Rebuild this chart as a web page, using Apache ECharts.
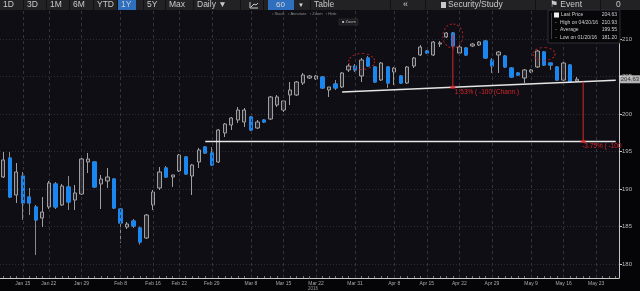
<!DOCTYPE html>
<html><head><meta charset="utf-8">
<script src="https://cdn.jsdelivr.net/npm/echarts@6/dist/echarts.min.js"></script>
<style>html,body{margin:0;padding:0;background:#050507;overflow:hidden}#c{width:640px;height:291px}</style>
</head><body><div id="c"></div>
<script>
// ---------- data ----------
const dates = ['01-12','01-13','01-14','01-15','01-19','01-20','01-21','01-22','01-25','01-26','01-27','01-28','01-29',
'02-01','02-02','02-03','02-04','02-05','02-08','02-09','02-10','02-11','02-12','02-16','02-17','02-18','02-19','02-22','02-23','02-24','02-25','02-26','02-29',
'03-01','03-02','03-03','03-04','03-07','03-08','03-09','03-10','03-11','03-14','03-15','03-16','03-17','03-18','03-21','03-22','03-23','03-24','03-28','03-29','03-30','03-31',
'04-01','04-04','04-05','04-06','04-07','04-08','04-11','04-12','04-13','04-14','04-15','04-18','04-19','04-20','04-21','04-22','04-25','04-26','04-27','04-28','04-29',
'05-02','05-03','05-04','05-05','05-06','05-09','05-10','05-11','05-12','05-13','05-16','05-17','05-18',
'05-19','05-20','05-23','05-24','05-25','05-26'];
const open  = [191.60,194.13,189.20,191.73,188.93,187.60,186.13,187.60,190.67,187.87,190.27,188.53,189.33,193.60,193.60,190.67,191.07,191.33,187.33,184.93,185.73,184.80,183.47,187.87,190.13,192.80,191.60,192.40,194.27,191.73,193.60,195.60,194.80,193.60,197.47,198.53,199.20,198.93,199.60,198.13,199.20,199.33,201.20,200.53,202.53,202.53,204.13,204.80,204.67,204.93,203.20,204.00,203.60,205.87,206.40,205.07,207.47,206.27,204.53,206.27,205.60,205.07,204.13,206.40,207.87,208.40,207.87,209.33,210.27,210.80,208.13,208.80,209.07,209.20,209.73,207.20,207.87,207.73,206.13,205.47,204.80,205.60,206.27,208.27,206.80,206.27,204.53,206.53,204.40];
const high  = [194.93,194.93,193.47,192.27,190.13,187.87,188.93,191.07,190.93,190.67,191.73,190.53,194.13,194.80,193.73,191.87,192.80,191.47,187.47,185.60,186.00,185.00,186.67,189.87,192.93,193.07,191.90,194.67,194.40,193.33,195.47,195.73,195.60,198.00,198.80,199.60,200.93,200.80,199.73,199.20,199.33,202.40,202.53,201.73,204.27,204.40,205.47,205.20,205.20,205.07,203.60,204.53,205.60,206.67,206.67,207.47,207.73,206.40,206.93,206.40,206.27,205.20,206.40,207.60,209.20,208.53,209.73,209.73,210.93,210.93,209.20,208.93,209.47,209.73,209.87,207.47,208.40,207.87,206.27,205.60,206.00,206.00,208.53,208.40,206.80,206.40,206.93,206.67,204.93];
const low   = [191.47,188.80,188.13,185.87,186.53,181.20,184.93,187.33,187.33,187.73,187.20,187.20,189.20,192.13,190.13,187.33,190.13,187.33,182.80,184.67,184.80,182.60,183.33,187.20,189.87,191.47,190.27,192.27,191.87,189.20,192.80,194.67,193.07,193.47,196.93,197.87,198.80,198.27,197.73,198.00,198.80,199.20,200.93,200.27,201.20,202.40,203.87,204.67,204.53,203.33,202.27,203.20,203.47,205.60,205.60,204.27,206.27,204.13,204.40,203.47,203.87,204.00,204.00,206.13,207.73,208.00,207.73,208.93,210.13,208.80,207.87,207.73,208.93,209.07,207.33,205.47,205.47,206.13,204.80,205.07,204.13,205.47,206.13,206.40,205.87,204.40,204.40,204.13,204.27];
const close = [193.87,188.93,192.27,188.13,188.13,185.87,186.93,190.80,187.60,190.40,188.27,189.47,194.00,194.00,190.27,191.33,191.60,187.47,185.47,185.33,185.07,182.93,186.53,189.60,192.27,191.60,191.87,194.53,192.00,193.20,195.20,194.80,193.20,197.87,198.67,199.47,200.53,200.53,197.87,198.93,198.93,202.27,202.27,201.73,203.20,204.27,205.20,205.07,205.07,203.47,203.60,203.47,205.47,206.40,205.87,207.20,206.40,204.27,206.80,204.13,206.13,204.13,206.27,207.47,208.93,208.13,209.60,209.47,210.80,209.07,208.93,207.87,209.33,209.60,207.47,206.40,208.27,206.27,204.93,205.20,205.87,205.87,208.40,206.53,206.53,204.53,206.80,204.27,204.63];
const labelDates = ['01-15','01-22','01-29','02-08','02-16','02-22','02-29','03-08','03-15','03-22','03-31','04-08','04-15','04-22','04-29','05-09','05-16','05-23'];
const yTicks = [180,185,190,195,200,205,210];
// annotations (data space: [category index, price])
const trendLine   = [[52, 202.93],[94, 204.50]];
const supportLine = [[31, 196.33],[94, 196.33]];
const moveIdx  = [69, 89];
const moveText = ['1.53% ( -100 (Chann.)', '-3.75% ( -100'];
const circleAnn = [[55, 207.0],[69, 210.4],[83, 208.0]];
const toolbarItems = ['1D','3D','1M','6M','YTD','1Y','5Y','Max','Daily \u25BC'];

// ---------- helpers ----------
const MONTHS = ['Jan','Feb','Mar','Apr','May','Jun','Jul','Aug','Sep','Oct','Nov','Dec'];
const fmtDate = d => { const [m, dd] = d.split('-'); return MONTHS[+m - 1] + ' ' + (+dd); };
const slash = d => { const [m, dd] = d.split('-'); return m + '/' + dd + '/16'; };
const trendAt = i => { const [[x0,y0],[x1,y1]] = trendLine; return y0 + (y1 - y0) * (i - x0) / (x1 - x0); };
const n = close.length;
const candleData = dates.map((d,i) => i < n ? [open[i], close[i], low[i], high[i]] : '-');
const downBodies = dates.map((d,i) => (i < n && close[i] < open[i]) ? [open[i], close[i], close[i], open[i]] : '-');
const moveTop = [210.6, trendAt(moveIdx[1])];
const moveBot = [trendAt(moveIdx[0]), supportLine[0][1]];
const circleSizes = [[26,16],[20,24],[22,13]];
const RED = '#d8262a';
const FONT = '"Liberation Sans", Arial, sans-serif';

const chart = echarts.init(document.getElementById('c'));
const option = {
  animation: false,
  backgroundColor: '#050507',
  grid: { left: -2, right: 21, top: 10, bottom: 13, show: true, backgroundColor: '#0e0e14', borderWidth: 0 },
  xAxis: {
    type: 'category', data: dates, boundaryGap: true,
    axisLine: { show: true, lineStyle: { color: '#c8c8c8', width: 1 } },
    axisTick: { show: true, inside: true, length: 2, alignWithLabel: true, interval: 0, lineStyle: { color: '#777' } },
    axisLabel: { interval: (i, v) => labelDates.includes(v), formatter: fmtDate, color: '#aaa', fontSize: 5, margin: 3, fontFamily: FONT },
    splitLine: { show: false }
  },
  yAxis: {
    type: 'value', position: 'right', min: 178.1333, max: 213.8667, scale: true,
    axisLine: { show: true, lineStyle: { color: '#c8c8c8', width: 1 } },
    axisTick: { show: true, length: 3, customValues: yTicks, lineStyle: { color: '#c8c8c8' } },
    axisLabel: { customValues: yTicks, color: '#bbb', fontSize: 6, margin: 3, fontFamily: FONT },
    splitLine: { show: true, lineStyle: { color: '#2c2c34', type: [1, 2], width: 1 } }
  },
  series: [
    { // vertical dashed grid lines at labelled dates
      type: 'line', data: [], z: 1, silent: true,
      markLine: { silent: true, symbol: 'none', label: { show: false },
        lineStyle: { color: '#34343e', type: [3, 3], width: 1 },
        data: labelDates.map(d => ({ xAxis: d })) }
    },
    {
      type: 'candlestick', data: candleData, barWidth: '58%', z: 3,
      itemStyle: { color: '#28282e', color0: '#1a86f0', borderColor: '#a0a0a0', borderColor0: '#8a8a8a', borderWidth: 1 }
    },
    {
      type: 'candlestick', data: downBodies, barWidth: '58%', z: 4,
      itemStyle: { color: '#1a86f0', color0: '#1a86f0', borderColor: '#1a86f0', borderColor0: '#1a86f0', borderWidth: 1 }
    },
    { type: 'line', data: trendLine, symbol: 'none', z: 5, lineStyle: { color: '#e6e6e6', width: 1.5 } },
    { type: 'line', data: supportLine, symbol: 'none', z: 5, lineStyle: { color: '#e6e6e6', width: 1.5 } },
    ...moveIdx.map((ix, k) => ({
      type: 'line', data: [[ix, moveTop[k]], [ix, moveBot[k]]], symbol: 'none', z: 6,
      lineStyle: { color: RED, width: 1 }
    })),
    {
      type: 'scatter', z: 7, symbol: 'rect', symbolSize: [5, 3],
      itemStyle: { color: RED },
      data: moveIdx.map((ix, k) => [ix, moveBot[k]])
    },
    {
      type: 'scatter', z: 7, symbol: 'circle',
      symbolSize: (v, p) => circleSizes[p.dataIndex],
      itemStyle: { color: 'rgba(0,0,0,0)', borderColor: RED, borderWidth: 1, borderType: [2, 2] },
      data: circleAnn
    },
    {
      type: 'scatter', z: 8, symbolSize: 0,
      data: [{ value: [dates.length - 1, close[n - 1]],
        label: { show: true, position: 'right', distance: 4, formatter: close[n - 1].toFixed(2),
          backgroundColor: '#dedede', color: '#111', fontSize: 6, padding: [1, 1], fontFamily: FONT } }]
    }
  ]
};
chart.setOption(option);

// ---------- chrome: toolbar, legend box, move labels ----------
const maxH = Math.max(...high), minL = Math.min(...low);
const hiDate = dates[high.indexOf(maxH)], loDate = dates[low.indexOf(minL)];
const avg = close.reduce((a, b) => a + b, 0) / n;
const g = [];
moveIdx.forEach((ix, k) => {
  const p = chart.convertToPixel({ xAxisIndex: 0, yAxisIndex: 0 }, [ix, moveBot[k]]);
  g.push({ type: 'text', x: p[0] + (k === 0 ? 2 : -1), y: p[1] + 5, z: 90,
    style: { text: moveText[k], fill: RED, font: '6.5px ' + FONT, textVerticalAlign: 'middle' } });
});
g.push({ type: 'rect', shape: { x: 0, y: 0, width: 640, height: 10 }, style: { fill: '#222224' }, z: 100 });
const tbX = [3, 27, 50, 73, 97, 121, 147, 169, 197];
toolbarItems.forEach((t, i) => {
  if (t === '1Y') g.push({ type: 'rect', shape: { x: 117, y: 0, width: 19, height: 10 }, style: { fill: '#2f6fbf' }, z: 101 });
  g.push({ type: 'text', x: tbX[i], y: 5, z: 102, style: { text: t, fill: '#c9c9c9', font: '8.5px ' + FONT, textVerticalAlign: 'middle' } });
  g.push({ type: 'rect', shape: { x: tbX[i] - 4, y: 0, width: 1, height: 10 }, style: { fill: '#121214' }, z: 101 });
});
[240, 263, 310, 390, 425, 535, 600].forEach(x => g.push({ type: 'rect', shape: { x: x, y: 0, width: 1, height: 10 }, style: { fill: '#121214' }, z: 101 }));
g.push({ type: 'polyline', shape: { points: [[250, 2], [250, 8], [258, 8]] }, style: { stroke: '#c9c9c9', lineWidth: 1, fill: null }, z: 102 });
g.push({ type: 'polyline', shape: { points: [[251, 7], [254, 4], [256, 5], [258, 3]] }, style: { stroke: '#c9c9c9', lineWidth: 1, fill: null }, z: 102 });
g.push({ type: 'rect', shape: { x: 268, y: 0, width: 26, height: 10 }, style: { fill: '#2f6fbf' }, z: 101 });
g.push({ type: 'text', x: 276, y: 5, z: 102, style: { text: '60', fill: '#d8d8d8', font: '8px ' + FONT, textVerticalAlign: 'middle' } });
g.push({ type: 'text', x: 298, y: 5, z: 102, style: { text: '\u25BC', fill: '#d8d8d8', font: '6px ' + FONT, textVerticalAlign: 'middle' } });
g.push({ type: 'text', x: 314, y: 5, z: 102, style: { text: 'Table', fill: '#c9c9c9', font: '8.5px ' + FONT, textVerticalAlign: 'middle' } });
g.push({ type: 'text', x: 403, y: 5, z: 102, style: { text: '\u00AB', fill: '#c9c9c9', font: '9px ' + FONT, textVerticalAlign: 'middle' } });
g.push({ type: 'rect', shape: { x: 441, y: 2, width: 5, height: 6 }, style: { fill: '#c9c9c9' }, z: 102 });
g.push({ type: 'text', x: 448, y: 5, z: 102, style: { text: 'Security/Study', fill: '#c9c9c9', font: '8.5px ' + FONT, textVerticalAlign: 'middle' } });
g.push({ type: 'text', x: 550, y: 5, z: 102, style: { text: '\u2691 Event', fill: '#c9c9c9', font: '8.5px ' + FONT, textVerticalAlign: 'middle' } });
g.push({ type: 'text', x: 616, y: 5, z: 102, style: { text: '0', fill: '#c9c9c9', font: '8.5px ' + FONT, textVerticalAlign: 'middle' } });
// sub-toolbar tiny texts
g.push({ type: 'text', x: 272, y: 14, z: 102, style: { text: '\u25AB Stack   \u25AB Annotate   \u25AB Zoom   \u25AB Hide', fill: '#8a8a8a', font: '4px ' + FONT, textVerticalAlign: 'middle' } });
g.push({ type: 'rect', shape: { x: 339, y: 19, width: 19, height: 6 }, style: { fill: '#1c1c20', stroke: '#3a3a3a', lineWidth: 0.5 }, z: 101 });
g.push({ type: 'text', x: 342, y: 22, z: 102, style: { text: '\u25A0 Zoom', fill: '#bbb', font: '4px ' + FONT, textVerticalAlign: 'middle' } });
// legend box
g.push({ type: 'rect', shape: { x: 548, y: 10, width: 72, height: 33 }, style: { fill: '#07070a', stroke: '#2e2e34', lineWidth: 1 }, z: 100 });
const rows = [
  ['Last Price', close[n - 1].toFixed(2)],
  ['High on ' + slash(hiDate), maxH.toFixed(2)],
  ['Average', avg.toFixed(2)],
  ['Low on ' + slash(loDate), minL.toFixed(2)]
];
rows.forEach((r, i) => {
  const y = 15 + i * 7.5;
  if (i === 0) g.push({ type: 'rect', shape: { x: 554, y: y - 2.5, width: 5, height: 5 }, style: { fill: '#eee' }, z: 101 });
  else g.push({ type: 'text', x: 555, y: y, z: 101, style: { text: '-', fill: '#aaa', font: '5px ' + FONT, textVerticalAlign: 'middle' } });
  g.push({ type: 'text', x: i === 0 ? 561 : 560, y: y, z: 101, style: { text: r[0], fill: '#cfcfcf', font: '5px ' + FONT, textVerticalAlign: 'middle' } });
  g.push({ type: 'text', x: 617, y: y, z: 101, style: { text: r[1], fill: '#cfcfcf', font: '5px ' + FONT, textAlign: 'right', textVerticalAlign: 'middle' } });
});
g.push({ type: 'rect', shape: { x: 551, y: 13, width: 0.6, height: 26 }, style: { fill: '#666' }, z: 101 });
g.push({ type: 'text', x: 308, y: 289, z: 101, style: { text: '2016', fill: '#999', font: '4.5px ' + FONT, textVerticalAlign: 'middle' } });
chart.setOption({ graphic: g });
</script>
</body></html>
